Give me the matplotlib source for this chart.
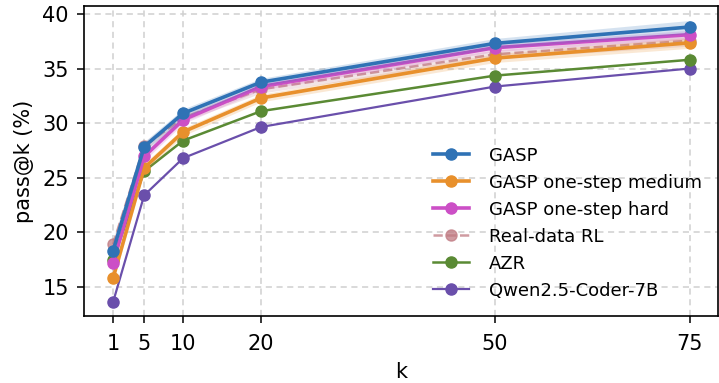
import matplotlib
matplotlib.use("Agg")
import matplotlib.pyplot as plt
import numpy as np

k = [1, 5, 10, 20, 50, 75]

gasp = [18.3, 27.85, 30.9, 33.75, 37.3, 38.8]
gasp_med = [15.8, 25.9, 29.2, 32.3, 35.95, 37.35]
gasp_hard = [17.2, 26.95, 30.3, 33.35, 36.9, 38.1]
real_rl = [18.9, 27.9, 30.5, 33.1, 36.3, 37.55]
azr = [17.5, 25.6, 28.4, 31.1, 34.35, 35.8]
qwen = [13.6, 23.4, 26.8, 29.65, 33.35, 35.0]

# spread of the shaded bands
gasp_sd = [0.45, 0.45, 0.4, 0.35, 0.45, 0.6]
gasp_med_sd = [0.4, 0.4, 0.35, 0.35, 0.4, 0.5]
gasp_hard_sd = [0.4, 0.4, 0.35, 0.3, 0.35, 0.4]
real_rl_sd = [0.5, 0.4, 0.35, 0.35, 0.4, 0.5]

plt.rcParams['font.family'] = 'DejaVu Sans'

fig = plt.figure(figsize=(7.19, 3.83), dpi=100)
ax = fig.add_axes([84/719, 1 - 316/383, (718-84)/719, (316-6)/383])

series = [
    ("GASP", gasp, gasp_sd, "#2f72b5", "-", 2.6, 6),
    ("GASP one-step medium", gasp_med, gasp_med_sd, "#e8902c", "-", 2.6, 4),
    ("GASP one-step hard", gasp_hard, gasp_hard_sd, "#cc4fc6", "-", 2.6, 5),
    ("Real-data RL", real_rl, real_rl_sd, "#c07a82", "--", 1.8, 3),
    ("AZR", azr, None, "#5a8a34", "-", 1.8, 2),
    ("Qwen2.5-Coder-7B", qwen, None, "#6a4fab", "-", 1.6, 1),
]

for name, vals, sd, col, ls, lw, z in series:
    vals = np.array(vals)
    alpha = 0.75 if name == "Real-data RL" else 1.0
    if sd is not None:
        sd = np.array(sd)
        ax.fill_between(k, vals - sd, vals + sd, color=col, alpha=0.2,
                        linewidth=0, zorder=z)
    ax.plot(k, vals, ls, color=col, lw=lw, marker="o", markersize=8,
            alpha=alpha, label=name, zorder=z + 0.5)

ax.set_xticks(k)
ax.set_yticks([15, 20, 25, 30, 35, 40])
ax.set_xlim(-2.72, 78.6)
ax.set_ylim(12.35, 40.72)
ax.tick_params(labelsize=15, length=5, width=1.1)
ax.tick_params(axis="x", pad=8)
ax.tick_params(axis="y", pad=6)
for s in ax.spines.values():
    s.set_linewidth(1.2)
ax.set_xlabel("k", fontsize=15, labelpad=6)
ax.set_ylabel("pass@k (%)", fontsize=15, labelpad=6)
ax.grid(True, linestyle=(0, (4, 3)), color="#d0d0d0", linewidth=1.1)
ax.set_axisbelow(True)

ax.legend(loc="lower right", bbox_to_anchor=(1.0, 0.0), frameon=False,
          fontsize=13, handlelength=2.0, handletextpad=1.1, labelspacing=0.5)

fig.savefig("out.png", dpi=100)
